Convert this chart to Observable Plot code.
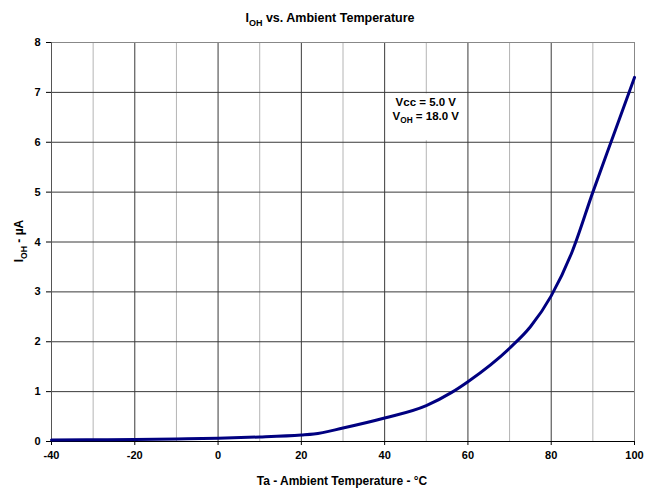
<!DOCTYPE html>
<html><head><meta charset="utf-8">
<script src="https://cdn.jsdelivr.net/npm/d3@7"></script>
<script src="https://cdn.jsdelivr.net/npm/@observablehq/plot@0.6"></script>
<style>
body{margin:0;background:#fff;}
#chart{position:relative;width:656px;height:493px;}
svg text{font-family:"Liberation Sans",Arial,sans-serif;}
</style></head>
<body><div id="chart"></div>
<script>
const temps = [-40,-30,-20,-10,0,10,20,23,30,40,50,56,60,70,75,80,85,90,95,100];
const ioh   = [0.03,0.035,0.04,0.05,0.065,0.09,0.13,0.15,0.27,0.47,0.72,0.98,1.2,1.87,2.3,2.92,3.8,5.0,6.15,7.3];
const xTicks = [-40,-20,0,20,40,60,80,100];
const xMinor = [-30,-10,10,30,50,70,90];
const xMajorGrid = [-20,0,20,40,60,80];
const yTicks = [0,1,2,3,4,5,6,7,8];
const yGrid = [1,2,3,4,5,6,7];
const noteBox = [{x1:40.4, x2:59.6, y1:6.03, y2:6.97}];
const noteLines = [{x:50, y:6.72, t:"Vcc = 5.0 V"},{x:50, y:6.44, t:"V", sub:"OH", rest:" = 18.0 V"}];

const data = temps.map((t,i)=>({t, v:ioh[i]}));

const plot = Plot.plot({
  width:656, height:493,
  marginLeft:51, marginRight:22, marginTop:42, marginBottom:52,
  style:{fontFamily:"Liberation Sans, Arial, sans-serif", fontSize:"11px", fontWeight:"bold", color:"#000"},
  x:{domain:[-40,100]},
  y:{domain:[0,8]},
  marks:[
    Plot.ruleX(xMinor,{stroke:"#b4b4b4", strokeWidth:1}),
    Plot.ruleX(xMajorGrid,{stroke:"#3a3a3a", strokeWidth:1}),
    Plot.ruleY(yGrid,{stroke:"#3a3a3a", strokeWidth:1}),
    Plot.rect(noteBox,{x1:"x1",x2:"x2",y1:"y1",y2:"y2",fill:"white"}),
    Plot.frame({stroke:"#888"}),
    Plot.ruleY([0],{stroke:"#000"}),
    Plot.ruleX([-40],{stroke:"#555"}),
    Plot.axisX({ticks:xTicks, tickSize:4, tickPadding:6, label:null, fontWeight:"bold", fontSize:11, tickFormat:d=>String(d)}),
    Plot.axisY({ticks:yTicks, tickSize:5, tickPadding:6, label:null, fontWeight:"bold", fontSize:11, tickFormat:d=>String(d)}),
    Plot.line(data,{x:"t", y:"v", stroke:"#000080", strokeWidth:3, curve:"monotone-x"})
  ]
});
document.getElementById("chart").appendChild(plot);

const svg = d3.select(plot);
const xs = plot.scale("x"), ys = plot.scale("y");
function sub(sel, base, subTxt, rest, size){
  sel.append("tspan").text(base);
  sel.append("tspan").attr("font-size", size*0.72).attr("dy", size*0.3).text(subTxt);
  sel.append("tspan").attr("dy", -size*0.3).text(rest);
}
// title
const title = svg.append("text").attr("x",330).attr("y",22).attr("text-anchor","middle")
  .attr("font-size",12.5).attr("font-weight","bold").attr("fill","#000");
sub(title,"I","OH"," vs. Ambient Temperature",12.5);
// x label
svg.append("text").attr("x",342).attr("y",485).attr("text-anchor","middle")
  .attr("font-size",12).attr("font-weight","bold").attr("fill","#000").text("Ta - Ambient Temperature - °C");
// y label
const yl = svg.append("text").attr("transform","translate(23,241) rotate(-90)").attr("text-anchor","middle")
  .attr("font-size",12).attr("font-weight","bold").attr("fill","#000");
sub(yl,"I","OH"," - µA",12);
// note
noteLines.forEach(d=>{
  const el = svg.append("text").attr("x", xs.apply(d.x)).attr("y", ys.apply(d.y)).attr("text-anchor","middle")
    .attr("font-size",11.5).attr("font-weight","bold").attr("fill","#000");
  if(d.sub) sub(el,d.t,d.sub,d.rest,11.5); else el.text(d.t);
});
</script></body></html>
